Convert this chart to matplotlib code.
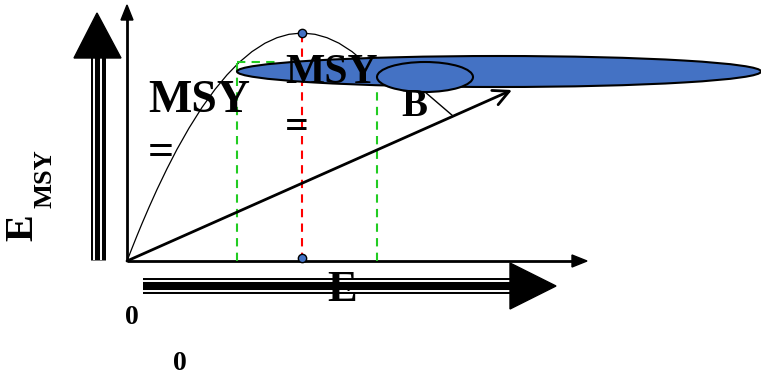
import matplotlib
matplotlib.use("Agg")
import matplotlib.pyplot as plt
from matplotlib.patches import Ellipse, Polygon

# ---- data (diagram units: effort E to the right, yield Y upward, origin at the axes corner) ----
E_curve = [0, 5, 10, 15, 22, 30, 40, 50, 62, 75, 88, 100, 112, 125, 138, 150, 162, 175,
           188, 200, 212, 225, 238, 250]
Y_curve = [0, 12.8, 25.3, 37.4, 53.7, 71.5, 92.3, 111.7, 132.9, 153.6, 171.6, 186.1, 198.5,
           209.4, 217.8, 223.3, 226.7, 228, 226.7, 223.3, 217.8, 209.4, 198.5, 186.1]
E_msy, MSY = 175, 228
E_green = [110, 250]
Y_green_top = [199, 176]
effort_line_end = (385, 171)
big_ellipse = dict(xy=(372, 189.5), width=524, height=31)
small_ellipse = dict(xy=(298, 184), width=96, height=30)
b_pointer = ([298, 326], [169, 145])

BLUE = "#4472C4"
FONT = "Liberation Serif"

fig = plt.figure(figsize=(7.61, 3.77), dpi=100)
ax = fig.add_axes([0, 0, 1, 1])
ax.set_xlim(-127, 634)
ax.set_ylim(-116, 261)
ax.axis("off")

# thin axes with arrowheads
ax.plot([0, 0], [0, 243], color="black", lw=2, zorder=2, solid_capstyle="butt")
ax.add_patch(Polygon([[-6, 241], [6, 241], [0, 256]], closed=True, color="black", zorder=2))
ax.plot([0, 447], [0, 0], color="black", lw=2, zorder=2, solid_capstyle="butt")
ax.add_patch(Polygon([[445, 6], [445, -6], [460, 0]], closed=True, color="black", zorder=2))

# yield curve
ax.plot(E_curve, Y_curve, color="black", lw=0.9, zorder=1)

# dashed guides
ax.plot([E_msy, E_msy], [0, MSY], color="#FF0000", lw=1.5, ls=(0, (4, 3)), zorder=2)
for e, yt in zip(E_green, Y_green_top):
    ax.plot([e, e], [0, yt], color="#22CC22", lw=1.5, ls=(0, (4, 3)), zorder=2)
ax.plot([E_green[0], 151], [Y_green_top[0], Y_green_top[0]], color="#22CC22", lw=1.5,
        ls=(0, (4, 3)), zorder=2)

# effort line with open arrowhead
ax.annotate("", xy=effort_line_end, xytext=(0, 0),
            arrowprops=dict(arrowstyle="->", lw=2, color="black", mutation_scale=28,
                            shrinkA=0, shrinkB=0), zorder=3)
ax.plot(*b_pointer, color="black", lw=1, zorder=3)

# ellipses
ax.add_patch(Ellipse(**big_ellipse, facecolor=BLUE, edgecolor="black", lw=1.5, zorder=4))
ax.add_patch(Ellipse(**small_ellipse, facecolor=BLUE, edgecolor="black", lw=1.5, zorder=5))

# points
ax.plot([E_msy, E_msy], [MSY, 3], "o", color=BLUE, mec="black", mew=1, ms=6, zorder=6)

# big triple-line arrows
ax.plot([-29.5, -29.5], [1, 204], color="black", lw=10.8, solid_capstyle="butt", zorder=2)
for xo in [-33, -26]:
    ax.plot([xo, xo], [1, 204], color="white", lw=1.4, solid_capstyle="butt", zorder=2)
ax.add_patch(Polygon([[-53, 203], [-6, 203], [-30, 248]], closed=True, color="black", zorder=2))

ax.plot([16, 384], [-25, -25], color="black", lw=11.5, solid_capstyle="butt", zorder=2)
for yo in [-20, -30]:
    ax.plot([16, 384], [yo, yo], color="white", lw=1.4, solid_capstyle="butt", zorder=2)
ax.add_patch(Polygon([[383, -2], [383, -48], [429, -25]], closed=True, color="black", zorder=2))

# texts
tk = dict(family=FONT, weight="bold", color="black", zorder=7, ha="center", va="center")
ax.text(72, 160, "MSY", fontsize=33, **tk)
ax.text(34, 107, "=", fontsize=33, **tk)
ax.text(205, 188, "MSY", fontsize=30, **tk)
ax.text(170, 133, "=", fontsize=30, **tk)
ax.text(287, 154, "B", fontsize=28, **tk)
ax.text(215, -29, "E", fontsize=32, **tk)
ax.text(-104, 33, "E", fontsize=29, rotation=90, **tk)
ax.text(-82, 82, "MSY", fontsize=19, rotation=90, **tk)
ax.text(5, -57, "0", fontsize=20, **tk)
ax.text(53, -102, "0", fontsize=20, **tk)

fig.savefig("out.png", dpi=100)
